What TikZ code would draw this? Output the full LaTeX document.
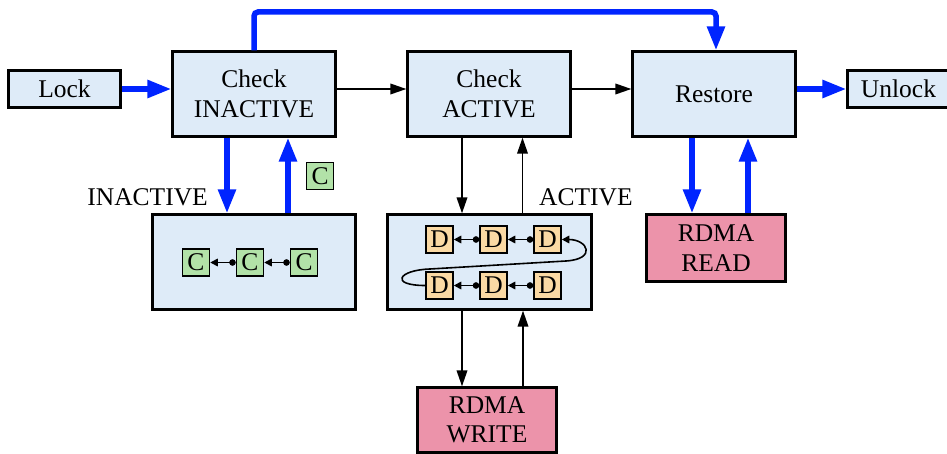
\documentclass[tikz,border=0pt]{standalone}
\usepackage{fontspec}
\setmainfont{Liberation Serif}
\usetikzlibrary{arrows.meta,calc}

\definecolor{boxfill}{RGB}{222,235,248}
\definecolor{rdmafill}{RGB}{236,147,170}
\definecolor{cfill}{RGB}{178,226,168}
\definecolor{dfill}{RGB}{250,217,164}
\definecolor{flowblue}{RGB}{0,36,255}

\tikzset{
  stage/.style={draw=black, line width=2.2pt, fill=boxfill, align=center,
    inner sep=0pt, font=\fontsize{25.5}{29.5}\selectfont},
  rdma/.style={stage, fill=rdmafill},
  cbox/.style={draw=black, line width=1.5pt, fill=cfill, inner sep=0pt,
    minimum width=27pt, minimum height=27pt, font=\fontsize{25.5}{29.5}\selectfont},
  dbox/.style={cbox, fill=dfill},
  lbl/.style={inner sep=0pt, font=\fontsize{25.5}{29.5}\selectfont},
  thickflow/.style={draw=flowblue, line width=5.5pt,
    -{Triangle[length=24pt,width=17pt]}},
  thinflow/.style={draw=black, line width=1.9pt,
    -{Triangle[length=16pt,width=10.5pt]}},
  chain/.style={draw=black, line width=1.6pt,
    {Circle[length=6.5pt]}-{Triangle[length=7.5pt,width=7.5pt]}},
  loopback/.style={draw=black, line width=1.6pt,
    -{Triangle[length=7.5pt,width=7.5pt]}},
}

\begin{document}
\begin{tikzpicture}[x=1pt,y=-1pt]
\clip (0,0) rectangle (947,454);

% main pipeline
\node[stage, minimum width=112pt, minimum height=37pt] (lock) at (64.5,89) {Lock};
\node[stage, minimum width=163pt, minimum height=85pt] (chkin) at (254,94) {Check\\INACTIVE};
\node[stage, minimum width=163pt, minimum height=85pt] (chkact) at (489,94) {Check\\ACTIVE};
\node[stage, minimum width=163pt, minimum height=85pt] (restore) at (714,94) {Restore};
\node[stage, minimum width=102pt, minimum height=37pt] (unlock) at (898.5,89) {Unlock};

% lists
\node[stage, minimum width=203pt, minimum height=95pt] (inbox) at (254,262) {};
\node[stage, minimum width=204pt, minimum height=95pt] (actbox) at (489.5,262) {};

% remote operations
\node[rdma, minimum width=139pt, minimum height=67pt] (read) at (716,248) {RDMA\\READ};
\node[rdma, minimum width=139pt, minimum height=65pt] (write) at (487,420) {RDMA\\WRITE};

% labels
\node[lbl, anchor=east] (inlbl) at (208,197) {INACTIVE};
\node[lbl, anchor=west] (actlbl) at (539,197) {ACTIVE};

% inactive list entries
\node[cbox] (cfree) at (320,176) {C};
\node[cbox] (c1) at (196,262.5) {C};
\node[cbox] (c2) at (250,262.5) {C};
\node[cbox] (c3) at (304,262.5) {C};
\draw[chain] (c2.west) -- (c1.east);
\draw[chain] (c3.west) -- (c2.east);

% active list entries
\node[dbox] (d1) at (439.5,239.5) {D};
\node[dbox] (d2) at (493.5,239.5) {D};
\node[dbox] (d3) at (547.5,239.5) {D};
\node[dbox] (d4) at (439.5,285.5) {D};
\node[dbox] (d5) at (493.5,285.5) {D};
\node[dbox] (d6) at (547.5,285.5) {D};
\draw[chain] (d2.west) -- (d1.east);
\draw[chain] (d3.west) -- (d2.east);
\draw[chain] (d5.west) -- (d4.east);
\draw[chain] (d6.west) -- (d5.east);
\coordinate (wrapL) at (430,269);
\coordinate (wrapR) at (566,261);
\draw[loopback] (d4.west) .. controls +(-36,0) and +(-32,1) .. (wrapL)
  -- (wrapR) .. controls +(31,-2) and +(26,0) .. (d3.east);

% pipeline flow
\draw[thickflow] (lock.east) -- (chkin.west |- lock.east);
\draw[thinflow] (chkin.east |- lock.east) -- (chkact.west |- lock.east);
\draw[thinflow] (chkact.east |- lock.east) -- (restore.west |- lock.east);
\draw[thickflow] (restore.east |- unlock.west) -- (unlock.west);

\coordinate (rail) at (480,12);
\draw[thickflow, rounded corners=4pt] (chkin.north) |- (rail)
  -| ([xshift=2pt]restore.north);

% inactive list access
\draw[thickflow] ([xshift=-27pt]chkin.south) -- ([xshift=-27pt]inbox.north);
\draw[thickflow] ([xshift=34pt]inbox.north) -- ([xshift=34pt]chkin.south);

% active list access
\draw[thinflow] ([xshift=-27pt]chkact.south) -- ([xshift=-27.5pt]actbox.north);
\draw[thinflow] ([xshift=33pt]actbox.north) -- ([xshift=33.5pt]chkact.south);
\draw[thinflow] ([xshift=-27.5pt]actbox.south) -- ([xshift=-27.5pt]actbox.south |- write.north);
\draw[thinflow] ([xshift=33.5pt]actbox.south |- write.north) -- ([xshift=33.5pt]actbox.south);

% remote read
\draw[thickflow] ([xshift=-22pt]restore.south) -- ([xshift=-22pt]restore.south |- read.north);
\draw[thickflow] ([xshift=34pt]restore.south |- read.north) -- ([xshift=34pt]restore.south);
\end{tikzpicture}
\end{document}
